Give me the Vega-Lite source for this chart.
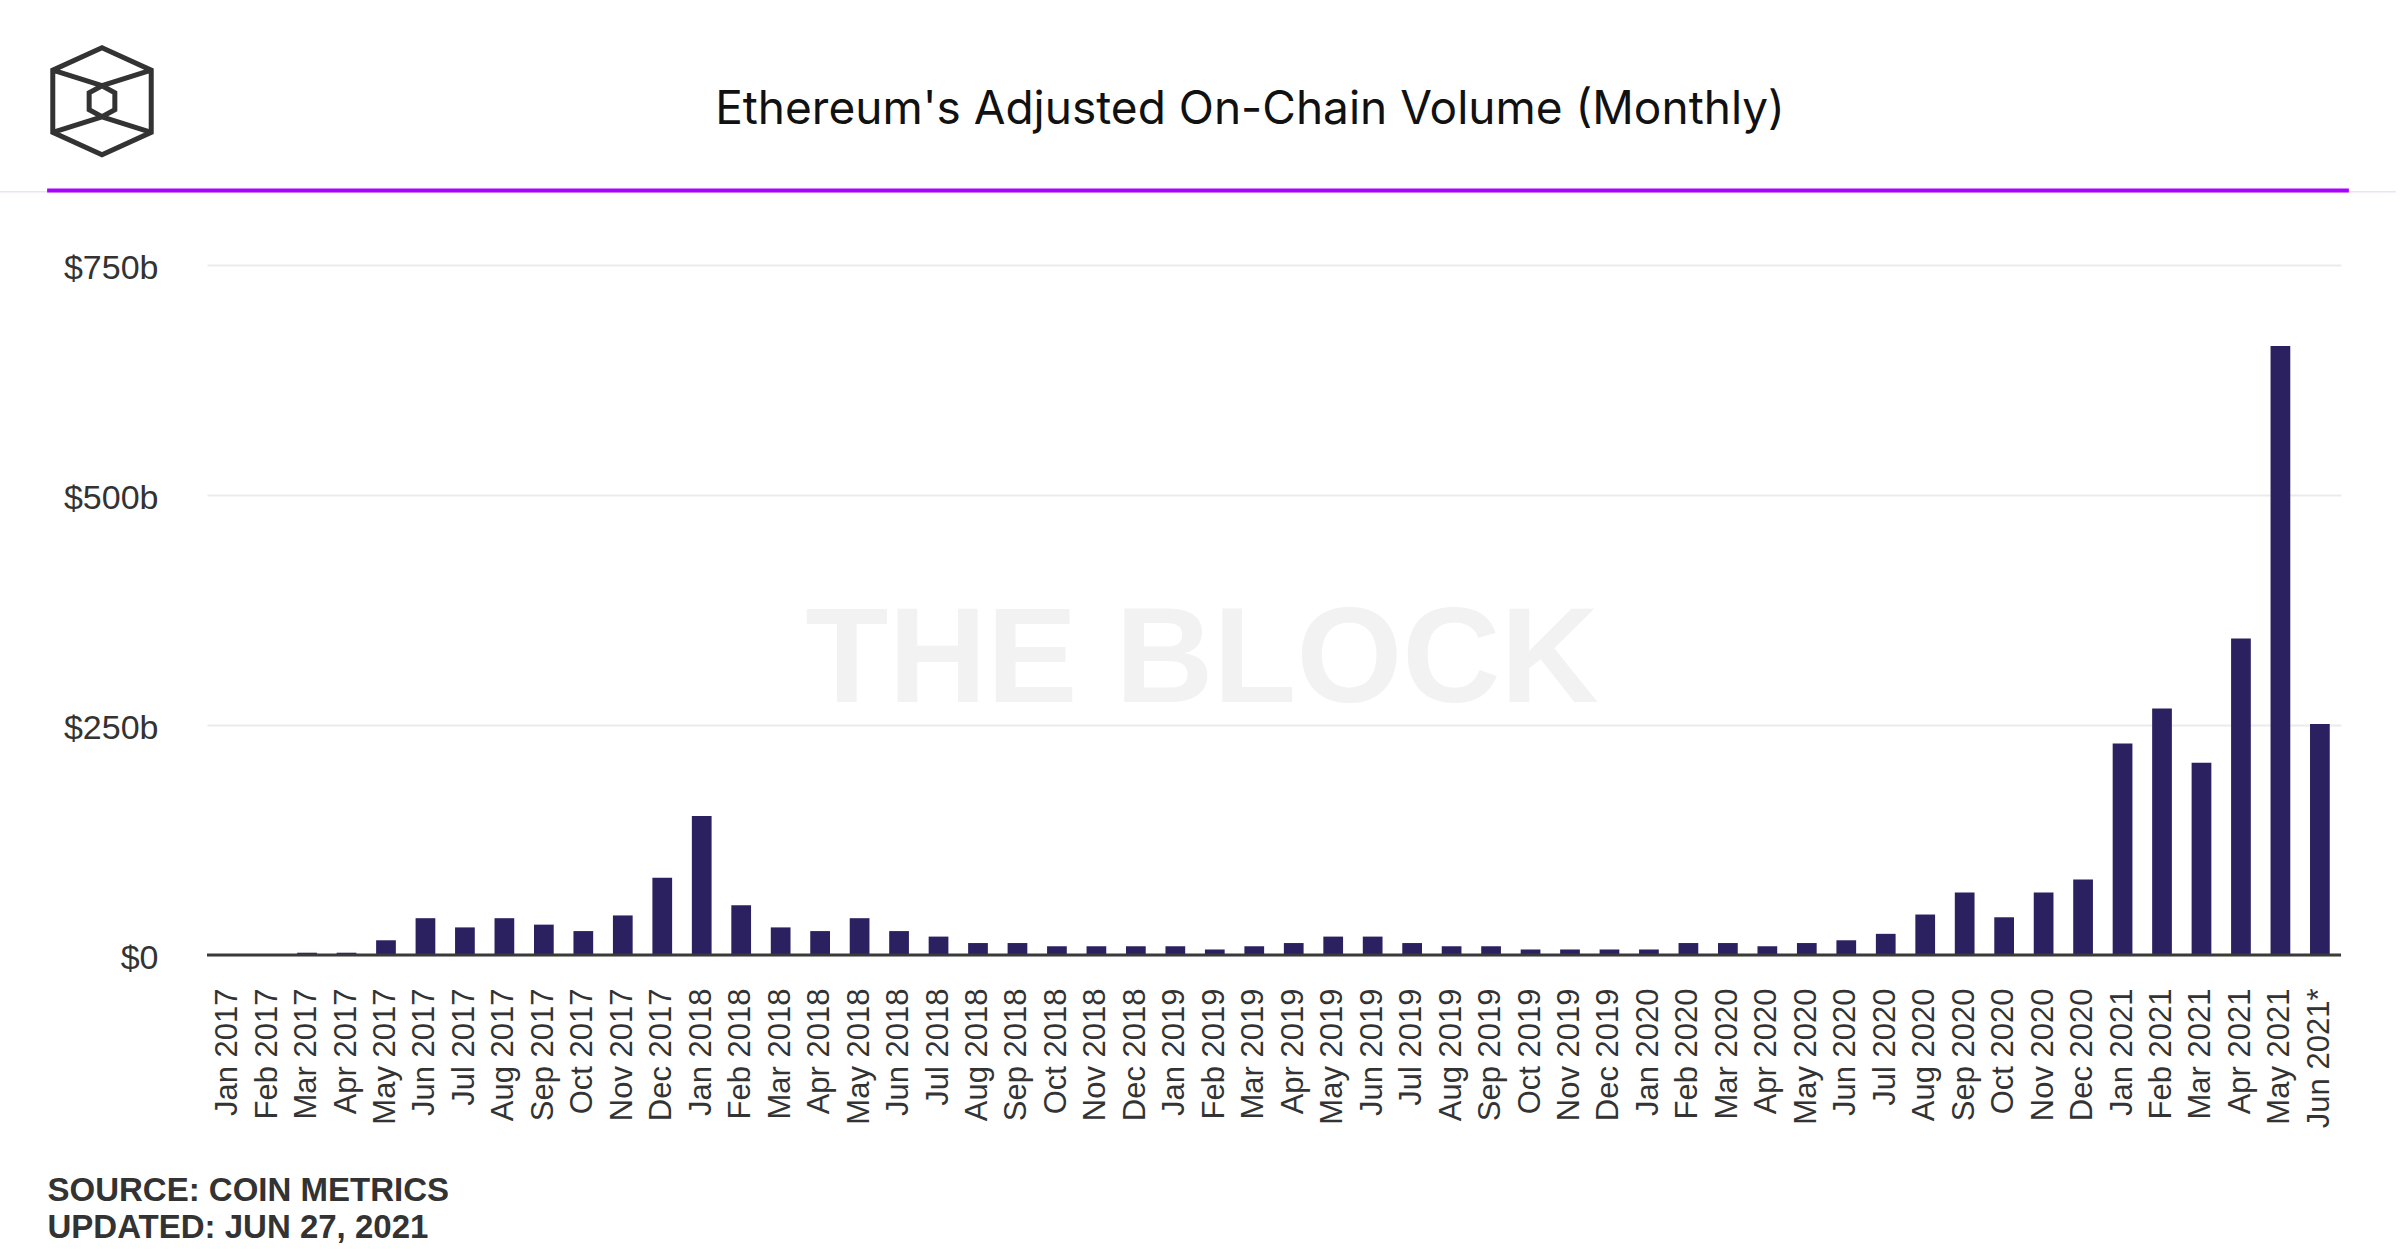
{
  "$schema": "https://vega.github.io/schema/vega-lite/v6.json",
  "width": 2134,
  "height": 690,
  "autosize": {"type": "none"},
  "padding": {"left": 207, "top": 265, "right": 60, "bottom": 305},
  "background": "white",
  "config": {"view": {"stroke": null}, "font": "Liberation Sans"},
  "title": {
    "text": "Ethereum's Adjusted On-Chain Volume (Monthly)",
    "anchor": "middle",
    "frame": "group",
    "dx": -24,
    "offset": -132,
    "baseline": "alphabetic",
    "font": "Inter",
    "fontSize": 46,
    "fontWeight": 400,
    "color": "#111111"
  },
  "layer": [
    {
      "data": {"values": [{"label": "THE BLOCK"}]},
      "mark": {"type": "text", "font": "Liberation Sans", "fontWeight": "bold", "fontSize": 136, "color": "#f2f2f2", "align": "center", "baseline": "middle", "xOffset": -72, "yOffset": 2},
      "encoding": {
        "y": {"datum": 322, "type": "quantitative", "scale": {"domain": [0, 750], "nice": false, "zero": true}},
        "text": {"field": "label", "type": "nominal"}
      }
    },
    {
      "data": {"values": [
        {"month": "Jan 2017", "volume": 0.3},
        {"month": "Feb 2017", "volume": 0.6},
        {"month": "Mar 2017", "volume": 2.5},
        {"month": "Apr 2017", "volume": 2.5},
        {"month": "May 2017", "volume": 16},
        {"month": "Jun 2017", "volume": 40},
        {"month": "Jul 2017", "volume": 30},
        {"month": "Aug 2017", "volume": 40},
        {"month": "Sep 2017", "volume": 33},
        {"month": "Oct 2017", "volume": 26},
        {"month": "Nov 2017", "volume": 43},
        {"month": "Dec 2017", "volume": 84},
        {"month": "Jan 2018", "volume": 151},
        {"month": "Feb 2018", "volume": 54},
        {"month": "Mar 2018", "volume": 30},
        {"month": "Apr 2018", "volume": 26},
        {"month": "May 2018", "volume": 40},
        {"month": "Jun 2018", "volume": 26},
        {"month": "Jul 2018", "volume": 20},
        {"month": "Aug 2018", "volume": 13},
        {"month": "Sep 2018", "volume": 13},
        {"month": "Oct 2018", "volume": 9.5},
        {"month": "Nov 2018", "volume": 9.5},
        {"month": "Dec 2018", "volume": 9.5},
        {"month": "Jan 2019", "volume": 9.5},
        {"month": "Feb 2019", "volume": 6},
        {"month": "Mar 2019", "volume": 9.5},
        {"month": "Apr 2019", "volume": 13},
        {"month": "May 2019", "volume": 20},
        {"month": "Jun 2019", "volume": 20},
        {"month": "Jul 2019", "volume": 13},
        {"month": "Aug 2019", "volume": 9.5},
        {"month": "Sep 2019", "volume": 9.5},
        {"month": "Oct 2019", "volume": 6},
        {"month": "Nov 2019", "volume": 6},
        {"month": "Dec 2019", "volume": 6},
        {"month": "Jan 2020", "volume": 6},
        {"month": "Feb 2020", "volume": 13},
        {"month": "Mar 2020", "volume": 13},
        {"month": "Apr 2020", "volume": 9.5},
        {"month": "May 2020", "volume": 13},
        {"month": "Jun 2020", "volume": 16},
        {"month": "Jul 2020", "volume": 23},
        {"month": "Aug 2020", "volume": 44},
        {"month": "Sep 2020", "volume": 68},
        {"month": "Oct 2020", "volume": 41},
        {"month": "Nov 2020", "volume": 68},
        {"month": "Dec 2020", "volume": 82},
        {"month": "Jan 2021", "volume": 230},
        {"month": "Feb 2021", "volume": 268},
        {"month": "Mar 2021", "volume": 209},
        {"month": "Apr 2021", "volume": 344},
        {"month": "May 2021", "volume": 662},
        {"month": "Jun 2021*", "volume": 251}
      ]},
      "mark": {"type": "bar", "color": "#2b2160"},
      "encoding": {
        "x": {
          "field": "month",
          "type": "nominal",
          "sort": null,
          "scale": {
            "domain": ["Jan 2017", "Feb 2017", "Mar 2017", "Apr 2017", "May 2017", "Jun 2017", "Jul 2017", "Aug 2017", "Sep 2017", "Oct 2017", "Nov 2017", "Dec 2017",
                       "Jan 2018", "Feb 2018", "Mar 2018", "Apr 2018", "May 2018", "Jun 2018", "Jul 2018", "Aug 2018", "Sep 2018", "Oct 2018", "Nov 2018", "Dec 2018",
                       "Jan 2019", "Feb 2019", "Mar 2019", "Apr 2019", "May 2019", "Jun 2019", "Jul 2019", "Aug 2019", "Sep 2019", "Oct 2019", "Nov 2019", "Dec 2019",
                       "Jan 2020", "Feb 2020", "Mar 2020", "Apr 2020", "May 2020", "Jun 2020", "Jul 2020", "Aug 2020", "Sep 2020", "Oct 2020", "Nov 2020", "Dec 2020",
                       "Jan 2021", "Feb 2021", "Mar 2021", "Apr 2021", "May 2021", "Jun 2021*"],
            "paddingInner": 0.5,
            "paddingOuter": 0.285
          },
          "axis": {
            "labelAngle": 270,
            "labelFont": "Liberation Sans",
            "labelFontSize": 31,
            "labelColor": "#333333",
            "labelPadding": 33,
            "labelOverlap": false,
            "ticks": false,
            "tickSize": 0,
            "domain": false,
            "title": ["SOURCE: COIN METRICS", "UPDATED: JUN 27, 2021"],
            "titleX": -160,
            "titleY": 245,
            "titleAlign": "left",
            "titleAnchor": "start",
            "titleAngle": 0,
            "titleBaseline": "alphabetic",
            "titleFont": "Liberation Sans",
            "titleFontWeight": "bold",
            "titleFontSize": 33,
            "titleColor": "#333333",
            "titleLineHeight": 37
          }
        },
        "y": {
          "field": "volume",
          "type": "quantitative",
          "scale": {"domain": [0, 750], "nice": false, "zero": true},
          "axis": {
            "values": [0, 250, 500, 750],
            "labelExpr": "'$' + datum.value + (datum.value == 0 ? '' : 'b')",
            "labelFont": "Liberation Sans",
            "labelFontSize": 34,
            "labelColor": "#333333",
            "labelPadding": 49,
            "labelOffset": 3,
            "ticks": false,
            "tickSize": 0,
            "domain": false,
            "grid": true,
            "gridColor": "#ebebeb",
            "gridWidth": 2,
            "title": null
          }
        }
      }
    },
    {
      "data": {"values": [{"line": "baseline"}]},
      "mark": {"type": "rule", "color": "#3a3a3a", "strokeWidth": 3},
      "encoding": {
        "y": {"datum": 0, "type": "quantitative", "scale": {"domain": [0, 750], "nice": false, "zero": true}}
      }
    },
    {
      "data": {"values": [{"line": "faint"}]},
      "mark": {"type": "rule", "color": "#eee0fa", "strokeWidth": 1.5, "xOffset": -228, "x2Offset": 76},
      "encoding": {
        "x": {"datum": "Jan 2017", "type": "nominal"},
        "x2": {"datum": "Jun 2021*"},
        "y": {"datum": 829.5, "type": "quantitative", "scale": {"domain": [0, 750], "nice": false, "zero": true}}
      }
    },
    {
      "data": {"values": [{"line": "header"}]},
      "mark": {"type": "rule", "color": "#aa00ff", "strokeWidth": 4, "xOffset": -181, "x2Offset": 29},
      "encoding": {
        "x": {"datum": "Jan 2017", "type": "nominal"},
        "x2": {"datum": "Jun 2021*"},
        "y": {"datum": 831, "type": "quantitative", "scale": {"domain": [0, 750], "nice": false, "zero": true}}
      }
    },
    {
      "data": {"values": [{"logo": "The Block"}]},
      "mark": {
        "type": "point",
        "filled": false,
        "stroke": "#333333",
        "strokeWidth": 5,
        "opacity": 1,
        "size": 11449,
        "xOffset": -1172,
        "shape": "M0,-1L0.92,-0.58L0.92,0.58L0,1L-0.92,0.58L-0.92,-0.58Z M0,-0.29L0.24,-0.16L0.24,0.16L0,0.29L-0.24,0.16L-0.24,-0.16Z M-0.92,-0.58L0,-0.29L0.92,-0.58 M-0.92,0.58L0,0.29L0.92,0.58"
      },
      "encoding": {
        "y": {"datum": 928, "type": "quantitative", "scale": {"domain": [0, 750], "nice": false, "zero": true}}
      }
    }
  ]
}
